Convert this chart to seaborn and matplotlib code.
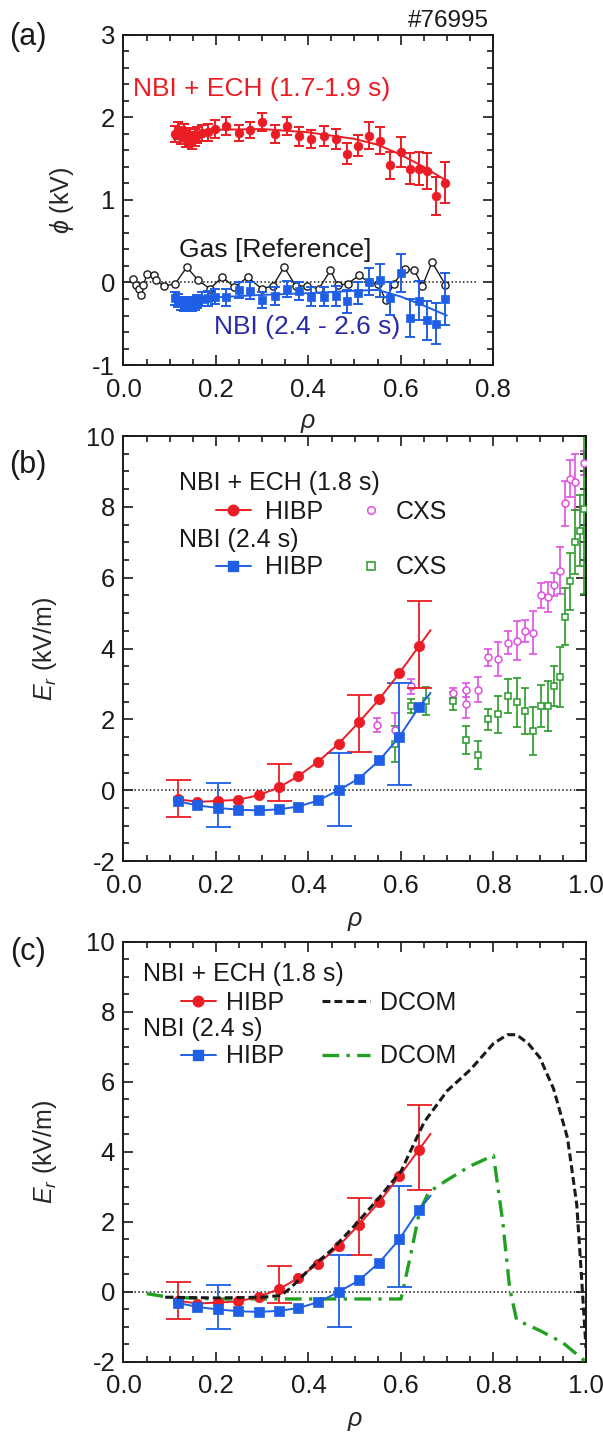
import matplotlib
matplotlib.use("Agg")
import matplotlib.pyplot as plt
from matplotlib.lines import Line2D
from matplotlib.legend import Legend
from matplotlib.ticker import MultipleLocator
import seaborn as sns

# ---------------- (a) potential profiles, shot #76995 ----------------
phi_rho = [0.112, 0.118, 0.124, 0.130, 0.136, 0.142, 0.148, 0.154, 0.160, 0.170, 0.182,
           0.198, 0.223, 0.249, 0.274, 0.300, 0.327, 0.354, 0.381, 0.407, 0.434, 0.459,
           0.483, 0.508, 0.532, 0.556, 0.578, 0.600, 0.621, 0.640, 0.658, 0.676, 0.695]
phi_ech = [1.80, 1.84, 1.78, 1.82, 1.74, 1.77, 1.72, 1.76, 1.79, 1.81, 1.82,
           1.86, 1.90, 1.81, 1.85, 1.95, 1.80, 1.90, 1.77, 1.74, 1.78, 1.74,
           1.56, 1.66, 1.78, 1.72, 1.42, 1.58, 1.38, 1.38, 1.35, 1.05, 1.21]
phi_ech_err = [0.10, 0.10, 0.10, 0.10, 0.10, 0.10, 0.10, 0.10, 0.10, 0.10, 0.10,
               0.11, 0.11, 0.10, 0.10, 0.11, 0.11, 0.11, 0.11, 0.11, 0.12, 0.12,
               0.13, 0.13, 0.16, 0.16, 0.16, 0.18, 0.19, 0.20, 0.22, 0.23, 0.25]
phi_nbi = [-0.19, -0.22, -0.25, -0.27, -0.26, -0.27, -0.26, -0.25, -0.23, -0.20, -0.19,
           -0.17, -0.18, -0.09, -0.10, -0.21, -0.16, -0.08, -0.10, -0.17, -0.17, -0.16,
           -0.23, -0.13, 0.01, 0.03, -0.19, 0.11, -0.43, -0.22, -0.46, -0.50, -0.20]
phi_nbi_err = [0.08, 0.08, 0.08, 0.08, 0.08, 0.08, 0.08, 0.08, 0.08, 0.09, 0.09,
               0.09, 0.10, 0.10, 0.10, 0.10, 0.11, 0.10, 0.11, 0.12, 0.12, 0.12,
               0.14, 0.13, 0.16, 0.20, 0.20, 0.23, 0.23, 0.24, 0.24, 0.25, 0.31]
phi_ech_fit_rho = [0.112, 0.20, 0.30, 0.40, 0.45, 0.50, 0.55, 0.60, 0.65, 0.70]
phi_ech_fit = [1.80, 1.85, 1.86, 1.82, 1.78, 1.74, 1.67, 1.55, 1.40, 1.23]
phi_nbi_fit_rho = [0.112, 0.20, 0.30, 0.40, 0.50, 0.55, 0.60, 0.65, 0.70]
phi_nbi_fit = [-0.22, -0.18, -0.15, -0.13, -0.10, -0.09, -0.17, -0.28, -0.40]
gas_rho = [0.021, 0.027, 0.033, 0.037, 0.043, 0.051, 0.065, 0.070, 0.087, 0.112, 0.137,
           0.162, 0.187, 0.214, 0.240, 0.269, 0.299, 0.323, 0.348, 0.373, 0.398, 0.423,
           0.448, 0.464, 0.485, 0.510, 0.531, 0.551, 0.568, 0.585, 0.609, 0.630, 0.647,
           0.668, 0.697]
gas_phi = [0.045, -0.027, -0.075, -0.156, -0.035, 0.106, 0.094, 0.033, -0.043, -0.015, 0.186,
           0.025, -0.075, 0.065, -0.055, 0.065, -0.075, -0.043, 0.186, -0.043, -0.043, -0.075,
           0.146, -0.035, -0.015, 0.085, 0.005, -0.015, -0.216, -0.015, 0.166, 0.146, -0.043,
           0.246, -0.027]

# ---------------- (b), (c) radial electric field ----------------
hibp_rho = [0.117, 0.160, 0.205, 0.248, 0.292, 0.336, 0.378, 0.421, 0.465, 0.509, 0.553, 0.596, 0.639]
er_ech = [-0.25, -0.33, -0.30, -0.27, -0.14, 0.08, 0.40, 0.81, 1.31, 1.92, 2.57, 3.30, 4.07]
er_nbi = [-0.31, -0.43, -0.50, -0.55, -0.57, -0.54, -0.46, -0.29, 0.00, 0.33, 0.84, 1.50, 2.35]
er_ech_line_rho = hibp_rho + [0.664]
er_ech_line = er_ech + [4.52]
er_nbi_line_rho = hibp_rho + [0.664]
er_nbi_line = er_nbi + [2.75]
ech_err_idx = [0, 5, 9, 12]
ech_err_lo = [0.51, 0.39, 0.85, 1.17]
ech_err_hi = [0.53, 0.66, 0.77, 1.28]
nbi_err_idx = [2, 8, 11]
nbi_err_lo = [0.55, 1.00, 1.36]
nbi_err_hi = [0.70, 1.05, 1.53]

cxs_ech_rho = [0.549, 0.586, 0.622, 0.713, 0.741, 0.741, 0.766, 0.788, 0.810, 0.832, 0.850,
               0.868, 0.886, 0.902, 0.917, 0.931, 0.943, 0.954, 0.965, 0.976, 0.996]
cxs_ech = [1.83, 1.71, 2.93, 2.75, 2.84, 2.43, 2.84, 3.76, 3.70, 4.17, 4.22,
           4.50, 4.45, 5.50, 5.45, 5.80, 6.20, 8.10, 8.80, 8.70, 9.24]
cxs_ech_err = [0.20, 0.47, 0.22, 0.15, 0.20, 0.38, 0.35, 0.24, 0.48, 0.33, 0.55,
               0.31, 0.60, 0.36, 0.43, 0.33, 0.67, 0.64, 0.52, 0.80, 0.35]
cxs_nbi_rho = [0.586, 0.622, 0.655, 0.713, 0.741, 0.766, 0.788, 0.810, 0.832, 0.850, 0.868,
               0.886, 0.902, 0.917, 0.931, 0.943, 0.954, 0.965, 0.976, 0.987, 0.996]
cxs_nbi = [1.30, 2.38, 2.51, 2.51, 1.42, 1.00, 2.00, 2.14, 2.67, 2.48, 2.24,
           1.67, 2.38, 2.38, 2.95, 3.19, 4.90, 5.90, 7.00, 7.33, 7.95]
cxs_nbi_err = [0.50, 0.20, 0.40, 0.25, 0.40, 0.40, 0.30, 0.52, 0.48, 0.70, 0.64,
               0.67, 0.60, 0.70, 0.57, 0.85, 0.80, 0.80, 0.90, 1.00, 2.40]

dcom_ech_rho = [0.09, 0.20, 0.30, 0.34, 0.36, 0.41, 0.45, 0.50, 0.55, 0.60, 0.65, 0.70,
                0.75, 0.80, 0.83, 0.85, 0.875, 0.90, 0.93, 0.96, 0.98, 0.99, 1.00]
dcom_ech = [-0.15, -0.17, -0.15, -0.10, 0.10, 0.75, 1.20, 1.90, 2.65, 3.45, 4.85, 5.75,
            6.35, 7.10, 7.35, 7.35, 7.10, 6.70, 5.80, 4.40, 2.50, 0.50, -1.60]
dcom_nbi_rho = [0.05, 0.10, 0.20, 0.30, 0.40, 0.50, 0.60, 0.62, 0.64, 0.66, 0.70, 0.75,
                0.80, 0.82, 0.835, 0.85, 0.90, 0.95, 1.00]
dcom_nbi = [-0.05, -0.15, -0.20, -0.20, -0.20, -0.20, -0.20, 1.00, 2.30, 2.85, 3.20, 3.60,
            3.90, 2.00, 0.10, -0.80, -1.10, -1.45, -2.00]

RED = "#ec1c24"
BLUE = "#1e5fe6"
NAVY = "#2a2aa8"
MAGENTA = "#e050e0"
GREEN = "#2a9a2a"
DGREEN = "#22a022"
INK = "#1a1a1a"

sns.set_theme(style="ticks")
plt.rcParams.update({
    "font.family": ["Liberation Sans", "DejaVu Sans"],
    "mathtext.fontset": "custom",
    "mathtext.rm": "Liberation Sans",
    "mathtext.it": "Liberation Sans:italic",
    "mathtext.fallback": "stixsans",
    "axes.unicode_minus": False,
    "axes.linewidth": 1.4,
    "axes.edgecolor": INK,
    "text.color": INK,
    "xtick.color": INK,
    "ytick.color": INK,
})

FS = 18.5      # tick labels
FT = 19        # annotation text
FL = 18        # legend text
FA = 18        # axis labels

DCOM_DASH = (0, (2.6, 1.3))
DCOM_DASHDOT = (0, (5, 2.2, 1, 2.2))

fig = plt.figure(figsize=(6.03, 14.32), dpi=100)
ax_a = fig.add_axes([0.2048, 0.7451, 0.6128, 0.2305])
ax_b = fig.add_axes([0.2048, 0.3987, 0.7670, 0.2968])
ax_c = fig.add_axes([0.2048, 0.0489, 0.7670, 0.2933])


def style_axes(ax, xlim, ylim, xmaj, xmin, ymaj, ymin, xl_y, yl_x):
    ax.set_xlim(*xlim)
    ax.set_ylim(*ylim)
    ax.xaxis.set_major_locator(MultipleLocator(xmaj))
    ax.xaxis.set_minor_locator(MultipleLocator(xmin))
    ax.yaxis.set_major_locator(MultipleLocator(ymaj))
    ax.yaxis.set_minor_locator(MultipleLocator(ymin))
    ax.tick_params(which="both", direction="in", top=True, right=True, width=1.2,
                   labelsize=FS)
    ax.tick_params(which="major", length=7)
    ax.tick_params(which="minor", length=4)
    ax.tick_params(axis="x", pad=9)
    ax.tick_params(axis="y", pad=6)
    ax.set_xlabel(r"$\rho$", fontsize=FA, va="center")
    ax.xaxis.set_label_coords(0.5, xl_y)
    ax.yaxis.set_label_coords(yl_x, 0.5)
    for s in ax.spines.values():
        s.set_visible(True)
        s.set_linewidth(1.4)


def errbars(ax, x, y, lo, hi, color, cap, lw=1.2, z=2):
    ax.errorbar(x, y, yerr=[lo, hi], fmt="none", ecolor=color, elinewidth=lw,
                capsize=cap, capthick=lw, zorder=z)


# ---------------- panel (a) ----------------
ax = ax_a
ax.axhline(0, xmax=0.955, color="k", ls=(0, (1, 1.5)), lw=1.1, zorder=1)
sns.lineplot(x=gas_rho, y=gas_phi, ax=ax, color="k", lw=1.0, sort=False, estimator=None,
             marker="o", ms=5.2, mfc="white", mec="k", mew=1.0, zorder=3)
errbars(ax, phi_rho, phi_ech, phi_ech_err, phi_ech_err, RED, 3.3, 1.4, 4)
sns.lineplot(x=phi_ech_fit_rho, y=phi_ech_fit, ax=ax, color=RED, lw=1.4, sort=False,
             estimator=None, zorder=4)
sns.scatterplot(x=phi_rho, y=phi_ech, ax=ax, color=RED, marker="o", s=40,
                edgecolor=RED, linewidth=0.5, zorder=5)
errbars(ax, phi_rho, phi_nbi, phi_nbi_err, phi_nbi_err, BLUE, 3.3, 1.4, 4)
sns.lineplot(x=phi_nbi_fit_rho, y=phi_nbi_fit, ax=ax, color=BLUE, lw=1.4, sort=False,
             estimator=None, zorder=4)
sns.scatterplot(x=phi_rho, y=phi_nbi, ax=ax, color=BLUE, marker="s", s=38,
                edgecolor=BLUE, linewidth=0.5, zorder=5)
style_axes(ax, (0, 0.8), (-1, 3), 0.2, 0.05, 1, 0.2, -0.175, -0.166)
ax.set_xticks([0, 0.2, 0.4, 0.6, 0.8])
ax.set_xticklabels(["0.0", "0.2", "0.4", "0.6", "0.8"])
ax.set_ylabel(r"$\phi$ (kV)", fontsize=FA, va="center")
ax.text(0.021, 2.34, "NBI + ECH (1.7-1.9 s)", color=RED, fontsize=FT,
        ha="left", va="center")
ax.text(0.120, 0.39, "Gas [Reference]", color=INK, fontsize=FT, ha="left", va="center")
ax.text(0.195, -0.54, "NBI (2.4 - 2.6 s)", color=NAVY, fontsize=FT,
        ha="left", va="center")
ax.text(0.989, 1.008, "#76995", transform=ax.transAxes, ha="right", va="bottom",
        fontsize=17.5)


def hibp(ax):
    ax.axhline(0, color="k", ls=(0, (1, 1.5)), lw=1.1, zorder=1)
    errbars(ax, [hibp_rho[i] for i in ech_err_idx], [er_ech[i] for i in ech_err_idx],
            ech_err_lo, ech_err_hi, RED, 9, 1.3, 4)
    errbars(ax, [hibp_rho[i] for i in nbi_err_idx], [er_nbi[i] for i in nbi_err_idx],
            nbi_err_lo, nbi_err_hi, BLUE, 9, 1.3, 4)
    sns.lineplot(x=er_ech_line_rho, y=er_ech_line, ax=ax, color=RED, lw=1.4, sort=False,
                 estimator=None, zorder=5)
    sns.scatterplot(x=hibp_rho, y=er_ech, ax=ax, color=RED, marker="o", s=56,
                    edgecolor=RED, linewidth=0.5, zorder=6)
    sns.lineplot(x=er_nbi_line_rho, y=er_nbi_line, ax=ax, color=BLUE, lw=1.4,
                 sort=False, estimator=None, zorder=5)
    sns.scatterplot(x=hibp_rho, y=er_nbi, ax=ax, color=BLUE, marker="s", s=48,
                    edgecolor=BLUE, linewidth=0.5, zorder=7)


def add_key(ax, handle, label, x, y, hlen, pad):
    leg = Legend(ax, [handle], [label], loc="center left", bbox_to_anchor=(x, y),
                 bbox_transform=ax.transData, frameon=False, borderpad=0,
                 borderaxespad=0, handlelength=hlen, handletextpad=pad, fontsize=FL,
                 handleheight=0.7)
    ax.add_artist(leg)


h_red = Line2D([], [], color=RED, lw=1.4, marker="o", ms=7.6, mec=RED)
h_blue = Line2D([], [], color=BLUE, lw=1.4, marker="s", ms=7.0, mec=BLUE)

# ---------------- panel (b) ----------------
ax = ax_b
ax.errorbar(cxs_ech_rho, cxs_ech, yerr=cxs_ech_err, fmt="none", ecolor=MAGENTA,
            elinewidth=1.2, capsize=3.0, capthick=1.2, zorder=2)
sns.lineplot(x=cxs_ech_rho, y=cxs_ech, ax=ax, sort=False, estimator=None, linestyle="none",
             marker="o", ms=5.0, mfc="white", mec=MAGENTA, mew=1.1, zorder=3)
ax.errorbar(cxs_nbi_rho, cxs_nbi, yerr=cxs_nbi_err, fmt="none", ecolor=GREEN,
            elinewidth=1.2, capsize=3.0, capthick=1.2, zorder=2)
sns.lineplot(x=cxs_nbi_rho, y=cxs_nbi, ax=ax, sort=False, estimator=None, linestyle="none",
             marker="s", ms=5.0, mfc="white", mec=GREEN, mew=1.1, zorder=3)
hibp(ax)
style_axes(ax, (0, 1.0), (-2, 10), 0.2, 0.05, 2, 0.5, -0.14, -0.169)
ax.set_xticks([0, 0.2, 0.4, 0.6, 0.8, 1.0])
ax.set_xticklabels(["0.0", "0.2", "0.4", "0.6", "0.8", "1.0"])
ax.set_ylabel(r"$E_r$ (kV/m)", fontsize=FA, va="center")
ax.text(0.121, 8.67, "NBI + ECH (1.8 s)", fontsize=FL, ha="left", va="center")
ax.text(0.121, 7.07, "NBI (2.4 s)", fontsize=FL, ha="left", va="center")
add_key(ax, h_red, "HIBP", 0.200, 7.86, 1.4, 0.56)
add_key(ax, h_blue, "HIBP", 0.200, 6.29, 1.4, 0.56)
add_key(ax, Line2D([], [], ls="none", marker="o", ms=5.5, mfc="white", mec=MAGENTA, mew=1.1),
        "CXS", 0.509, 7.86, 1.0, 0.46)
add_key(ax, Line2D([], [], ls="none", marker="s", ms=5.5, mfc="white", mec=GREEN, mew=1.1),
        "CXS", 0.509, 6.29, 1.0, 0.46)

# ---------------- panel (c) ----------------
ax = ax_c
sns.lineplot(x=dcom_nbi_rho, y=dcom_nbi, ax=ax, color=DGREEN, lw=2.4, sort=False,
             estimator=None, linestyle=DCOM_DASHDOT, zorder=3)
hibp(ax)
sns.lineplot(x=dcom_ech_rho, y=dcom_ech, ax=ax, color="k", lw=2.2, sort=False,
             estimator=None, linestyle=DCOM_DASH, zorder=8)
style_axes(ax, (0, 1.0), (-2, 10), 0.2, 0.05, 2, 0.5, -0.14, -0.169)
ax.set_xticks([0, 0.2, 0.4, 0.6, 0.8, 1.0])
ax.set_xticklabels(["0.0", "0.2", "0.4", "0.6", "0.8", "1.0"])
ax.set_ylabel(r"$E_r$ (kV/m)", fontsize=FA, va="center")
ax.text(0.042, 9.09, "NBI + ECH (1.8 s)", fontsize=FL, ha="left", va="center")
ax.text(0.042, 7.50, "NBI (2.4 s)", fontsize=FL, ha="left", va="center")
add_key(ax, h_red, "HIBP", 0.124, 8.27, 1.4, 0.39)
add_key(ax, h_blue, "HIBP", 0.124, 6.73, 1.4, 0.39)
add_key(ax, Line2D([], [], color="k", lw=2.2, ls=DCOM_DASH), "DCOM",
        0.430, 8.27, 1.92, 0.39)
add_key(ax, Line2D([], [], color=DGREEN, lw=2.4, ls=DCOM_DASHDOT), "DCOM",
        0.430, 6.73, 1.92, 0.39)

fig.text(0.046, 0.974, "(a)", fontsize=22, ha="center", va="center")
fig.text(0.046, 0.675, "(b)", fontsize=22, ha="center", va="center")
fig.text(0.046, 0.335, "(c)", fontsize=22, ha="center", va="center")

fig.savefig("out.png", dpi=100)
